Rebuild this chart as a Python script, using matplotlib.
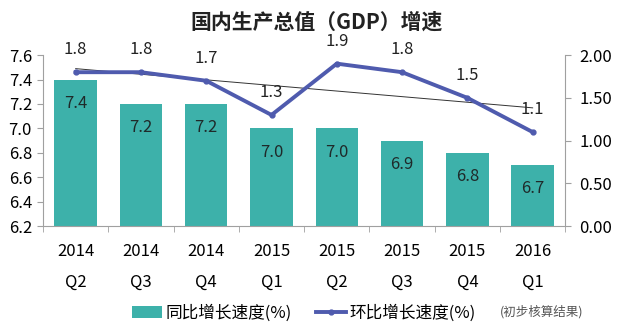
import numpy as np
import matplotlib.pyplot as plt

plt.rcParams['font.family'] = ['Noto Sans CJK SC', 'DejaVu Sans']

years = ['2014', '2014', '2014', '2015', '2015', '2015', '2015', '2016']
quarters = ['Q2', 'Q3', 'Q4', 'Q1', 'Q2', 'Q3', 'Q4', 'Q1']
yoy = [7.4, 7.2, 7.2, 7.0, 7.0, 6.9, 6.8, 6.7]   # 同比
qoq = [1.8, 1.8, 1.7, 1.3, 1.9, 1.8, 1.5, 1.1]   # 环比

bar_color = '#3DB1AA'
line_color = '#4F5BAE'
spine_color = '#A0A0A0'

fig = plt.figure(figsize=(6.33, 3.36), dpi=100)
ax = fig.add_axes([0.068, 0.327, 0.825, 0.509])
ax2 = ax.twinx()

x = np.arange(len(yoy))
bars = ax.bar(x, [v - 6.2 for v in yoy], bottom=6.2, width=0.65, color=bar_color,
              label='同比增长速度(%)', zorder=2)
for xi, v in zip(x, yoy):
    ax.annotate('%.1f' % v, (xi, v), xytext=(0, -17), textcoords='offset points',
                ha='center', va='center', fontsize=12, color='#1f2a2a')

ax.set_xlim(-0.5, len(yoy) - 0.5)
ax.set_ylim(6.2, 7.6)
ax.set_yticks(np.arange(6.2, 7.61, 0.2))
ax.set_yticklabels(['%.1f' % t for t in np.arange(6.2, 7.61, 0.2)], fontsize=12)
ax.set_xticks(x)
ax.set_xticklabels([y + '\n' + q for y, q in zip(years, quarters)], fontsize=12,
                   linespacing=2.1)
ax.set_xticks(np.arange(-0.5, len(yoy), 1), minor=True)
ax.tick_params(axis='x', which='major', length=0, pad=12)
ax.tick_params(axis='x', which='minor', length=4, color=spine_color)
ax.tick_params(axis='y', length=4, color=spine_color, pad=4)

ln, = ax2.plot(x, qoq, color=line_color, lw=2.8, marker='o', markersize=3.5,
               label='环比增长速度(%)', zorder=3)
# linear trend of the qoq series
k, b = np.polyfit(x, qoq, 1)
ax2.plot(x, k * x + b, color='#333333', lw=0.7, zorder=2)
for xi, v in zip(x, qoq):
    ax2.annotate('%.1f' % v, (xi, v), xytext=(0, 16), textcoords='offset points',
                 ha='center', va='center', fontsize=12, color='#222222')
ax2.set_ylim(0, 2.0)
ax2.set_yticks(np.arange(0, 2.01, 0.5))
ax2.set_yticklabels(['%.2f' % t for t in np.arange(0, 2.01, 0.5)], fontsize=12)
ax2.tick_params(axis='y', length=4, color=spine_color, pad=6)

for a in (ax, ax2):
    a.spines['top'].set_visible(False)
    for s in ('left', 'right', 'bottom'):
        a.spines[s].set_color(spine_color)
        a.spines[s].set_linewidth(0.8)
ax.spines['right'].set_visible(False)
ax2.spines['left'].set_visible(False)
ax2.spines['bottom'].set_visible(False)

fig.text(0.5, 0.935, '国内生产总值（GDP）增速', ha='center', va='center',
         fontsize=15, fontweight='bold', color='#222222')

fig.legend([bars, ln], ['同比增长速度(%)', '环比增长速度(%)'], loc='center',
           bbox_to_anchor=(0.48, 0.068), ncol=2, frameon=False, fontsize=12,
           handlelength=1.8, handletextpad=0.2, columnspacing=1.5)
fig.text(0.855, 0.072, '(初步核算结果)', ha='center', va='center', fontsize=9,
         color='#555555')

fig.savefig('out.png', dpi=100, facecolor='white')
